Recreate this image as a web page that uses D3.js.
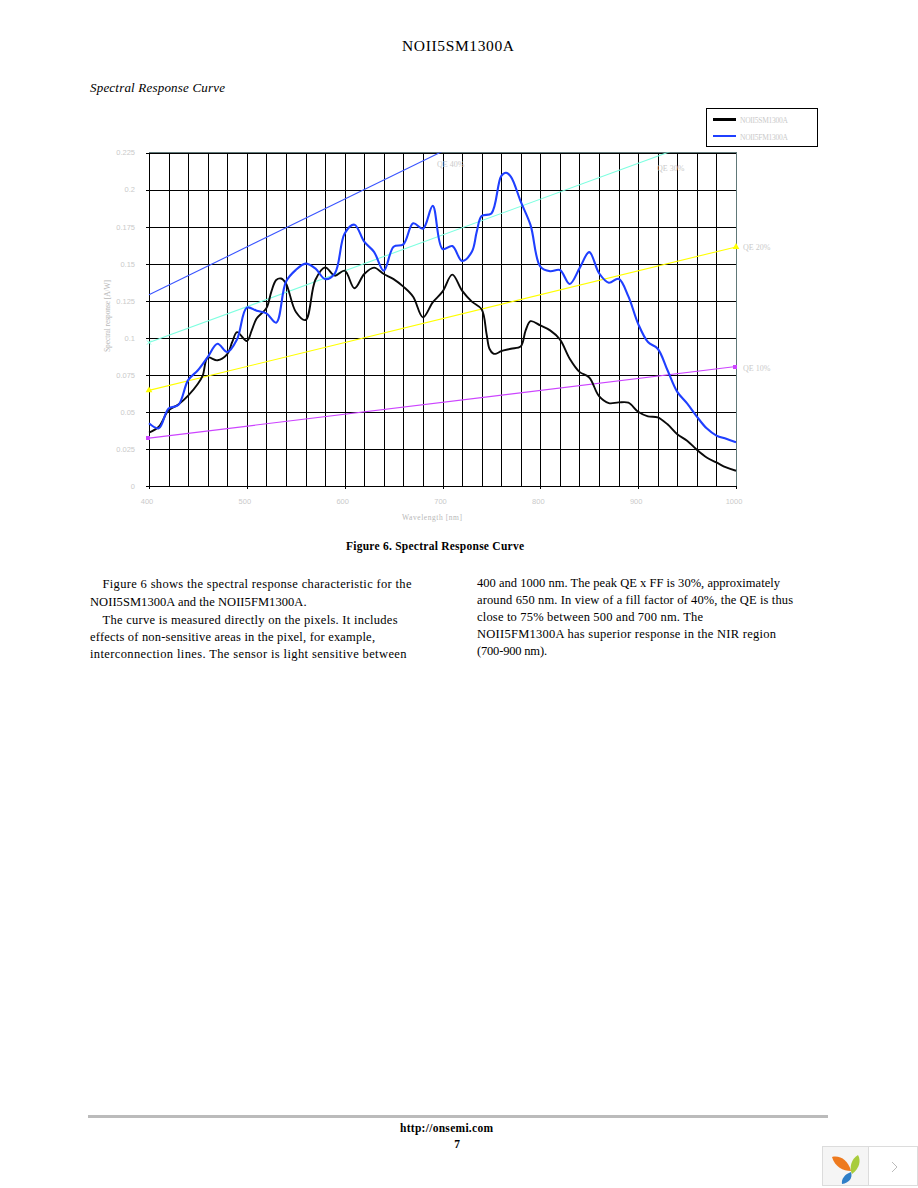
<!DOCTYPE html>
<html lang="en">
<head>
<meta charset="utf-8">
<title>NOII5SM1300A</title>
<script src="https://cdnjs.cloudflare.com/ajax/libs/d3/7.8.5/d3.min.js"></script>
<style>
    html, body { margin: 0; padding: 0; background: #fff; }
    svg { display: block; font-family: "Liberation Serif", serif; }
    .tick-label { fill: #cacaca; font-size: 7.5px; }
</style>
</head>
<body>
<svg id="page" width="918" height="1188"></svg>
<script>
// values
var monoNm = [400,410,420,430,440,450,455,460,470,480,485,490,500,505,510,520,525,530,535,540,550,560,570,580,590,600,610,620,630,640,650,660,670,680,690,700,710,720,730,740,745,748,752,755,760,770,780,785,790,800,810,820,830,840,850,860,870,880,890,900,910,920,930,940,950,960,970,980,990,1000];
var monoAw = [.036,.040,.051,.055,.061,.069,.0747,.0866,.0848,.089,.097,.1038,.0978,.105,.113,.120,.131,.139,.140,.1367,.1176,.112,.139,.1475,.1419,.1453,.1334,.143,.1473,.143,.1396,.1345,.1277,.1138,.1239,.1311,.1426,.1318,.1244,.1192,.1027,.0926,.0893,.0893,.091,.0926,.0942,.105,.1112,.1083,.105,.0989,.0859,.077,.0732,.0606,.0559,.0564,.0562,.0501,.047,.0463,.0416,.0349,.0306,.0244,.0192,.0159,.0125,.0103];
var nirNm = [400,410,420,430,440,450,460,470,480,490,500,510,520,530,540,550,560,570,580,590,600,610,620,630,640,650,660,670,680,690,700,710,720,730,735,740,750,760,765,770,780,790,800,810,820,830,840,850,860,870,880,890,900,910,920,930,940,950,960,970,980,990,1000];
var nirAw = [.0423,.0389,.0523,.0546,.0714,.0781,.087,.096,.0904,.099,.1203,.1183,.1165,.1102,.1378,.1457,.15,.1468,.1396,.1435,.1704,.1763,.1648,.158,.1453,.1614,.163,.1772,.1736,.189,.1599,.1619,.1518,.158,.1715,.1821,.1839,.2091,.2113,.2086,.1918,.176,.148,.1449,.1457,.1363,.1468,.1578,.1436,.1371,.1398,.1279,.1094,.0971,.0926,.0781,.0635,.0557,.0468,.0389,.034,.0318,.0295];
var qeNames = ["QE 40%", "QE 30%", "QE 20%", "QE 10%"];
var qeStart = [.129, .0968, .0645, .0323];
var qeEnd = [.3226, .2419, .1613, .0806];
var qeColors = ["#3a55ff", "#7dffe0", "#ffff00", "#cc44ff"];
var xMajor = [400,500,600,700,800,900,1000];
var yMajor = [0,.025,.05,.075,.1,.125,.15,.175,.2,.225];
var yLabels = ["0","0.025","0.05","0.075","0.1","0.125","0.15","0.175","0.2","0.225"];
var leftLines = ["Figure 6 shows the spectral response characteristic for the", "NOII5SM1300A and the NOII5FM1300A.", "The curve is measured directly on the pixels. It includes", "effects of non-sensitive areas in the pixel, for example,", "interconnection lines. The sensor is light sensitive between"];
var rightLines = ["400 and 1000 nm. The peak QE x FF is 30%, approximately", "around 650 nm. In view of a fill factor of 40%, the QE is thus", "close to 75% between 500 and 700 nm. The", "NOII5FM1300A has superior response in the NIR region", "(700-900 nm)."];

var svg = d3.select("#page");
var x = d3.scaleLinear().domain([400, 1000]).range([149, 736]);
var y = d3.scaleLinear().domain([0, 0.225]).range([486, 152.5]);

function pageText(px, py, str, size, opts) {
    opts = opts || {};
    var t = svg.append("text").attr("x", px).attr("y", py).text(str)
        .attr("font-size", size)
        .attr("font-weight", opts.weight || null)
        .attr("font-style", opts.style || null)
        .attr("text-anchor", opts.anchor || "start")
        .attr("fill", opts.fill || "#000");
    if (opts.width) t.attr("textLength", opts.width).attr("lengthAdjust", "spacing");
    return t;
}

// page furniture
pageText(458, 50.5, "NOII5SM1300A", 15.5, {anchor: "middle", width: 112});
pageText(90, 92, "Spectral Response Curve", 13, {style: "italic", width: 135});

// grid, drawn by the axes
var xGrid = d3.axisBottom(x).tickValues(d3.range(400, 1001, 20)).tickSize(-(486 - 152.5)).tickFormat("");
var gx = svg.append("g").attr("transform", "translate(0,486)").attr("shape-rendering", "crispEdges").call(xGrid);
gx.select(".domain").remove();
gx.selectAll("line").attr("stroke", "#000").attr("stroke-width", 1);
var yGrid = d3.axisLeft(y).tickValues(yMajor).tickSize(-587).tickFormat("");
var gy = svg.append("g").attr("transform", "translate(149,0)").attr("shape-rendering", "crispEdges").call(yGrid);
gy.select(".domain").remove();
gy.selectAll("line").attr("stroke", "#000").attr("stroke-width", 1);

// tick labels
var xAxis = d3.axisBottom(x).tickValues(xMajor).tickSize(3).tickPadding(10).tickFormat(d3.format("d"));
var ax = svg.append("g").attr("transform", "translate(0,486)").attr("shape-rendering", "crispEdges").call(xAxis);
ax.select(".domain").remove();
ax.selectAll("line").attr("stroke", "#000");
ax.selectAll("text").attr("class", "tick-label").attr("font-family", null).attr("font-size", null).attr("dx", -2.5);
var yAxis = d3.axisLeft(y).tickValues(yMajor).tickSize(3).tickPadding(11).tickFormat(function (d, i) { return yLabels[i]; });
var ay = svg.append("g").attr("transform", "translate(149,0)").attr("shape-rendering", "crispEdges").call(yAxis);
ay.select(".domain").remove();
ay.selectAll("line").attr("stroke", "#000");
ay.selectAll("text").attr("class", "tick-label").attr("font-family", null).attr("font-size", null);

// top and right edges of the plot are grey
svg.append("path").attr("fill", "none").attr("stroke", "#607878").attr("stroke-width", 1).attr("shape-rendering", "crispEdges")
    .attr("d", "M" + x(400) + "," + y(0.225) + "H" + x(1000) + "V" + y(0));

// clip for QE lines and curves
svg.append("clipPath").attr("id", "plot").append("rect")
    .attr("x", x(400) - 5).attr("y", y(0.225)).attr("width", x(1000) - x(400) + 10).attr("height", y(0) - y(0.225));

var plot = svg.append("g").attr("clip-path", "url(#plot)");
var qeLine = d3.line().x(function (d) { return x(d[0]); }).y(function (d) { return y(d[1]); });
qeNames.forEach(function (n, i) {
    plot.append("path").attr("fill", "none").attr("stroke", qeColors[i]).attr("stroke-width", 1.1)
        .attr("d", qeLine([[400, qeStart[i]], [1000, qeEnd[i]]]));
});

// QE markers: cross for 30%, triangle for 20%, square for 10%
function marker(nm, val, i) {
    var px = x(nm), py = y(val), c = qeColors[i];
    if (i === 1) {
        plot.append("path").attr("transform", "translate(" + px + "," + py + ")").attr("d", "M-2,-2L2,2M-2,2L2,-2").attr("stroke", c).attr("stroke-width", 1);
    } else if (i === 2) {
        svg.append("path").attr("transform", "translate(" + px + "," + py + ")").attr("d", d3.symbol(d3.symbolTriangle, 20)).attr("fill", c);
    } else if (i === 3) {
        svg.append("path").attr("transform", "translate(" + (px - 1) + "," + py + ")").attr("d", d3.symbol(d3.symbolSquare, 16)).attr("fill", c).attr("shape-rendering", "crispEdges");
    }
}
qeNames.forEach(function (n, i) {
    marker(400, qeStart[i], i);
    marker(1000, qeEnd[i], i);
});

// response curves
var curve = d3.line()
    .x(function (d) { return x(d[0]); })
    .y(function (d) { return y(d[1]); })
    .curve(d3.curveCatmullRom.alpha(0.5));
plot.append("path").attr("fill", "none").attr("stroke", "#0a0a0a").attr("stroke-width", 1.9)
    .attr("d", curve(d3.zip(monoNm, monoAw)));
plot.append("path").attr("fill", "none").attr("stroke", "#1f3fff").attr("stroke-width", 2.1)
    .attr("d", curve(d3.zip(nirNm, nirAw)));

// QE labels
var qeLabelX = [437, 657, 743, 743];
var qeLabelY = [167, 171, 250, 371];
qeNames.forEach(function (n, i) {
    pageText(qeLabelX[i], qeLabelY[i], n, 8, {fill: "#cacaca"});
});

// axis titles
pageText(432, 520, "Wavelength [nm]", 7.5, {anchor: "middle", fill: "#b8b8b8", width: 60});
svg.append("text").attr("transform", "translate(110,316) rotate(-90)").text("Spectral response [A/W]")
    .attr("font-size", 7.5).attr("text-anchor", "middle").attr("fill", "#b8b8b8")
    .attr("textLength", 72).attr("lengthAdjust", "spacing");

// legend
svg.append("rect").attr("x", 706.5).attr("y", 108.5).attr("width", 111).attr("height", 38).attr("fill", "#fff").attr("stroke", "#000");
svg.append("line").attr("x1", 713).attr("x2", 736).attr("y1", 119.5).attr("y2", 119.5).attr("stroke", "#000").attr("stroke-width", 3);
svg.append("line").attr("x1", 713).attr("x2", 736).attr("y1", 136).attr("y2", 136).attr("stroke", "#1f3fff").attr("stroke-width", 2);
pageText(740, 123, "NOII5SM1300A", 7.5, {fill: "#cacaca", width: 48});
pageText(740, 140, "NOII5FM1300A", 7.5, {fill: "#cacaca", width: 48});

// caption and body text
pageText(435, 550, "Figure 6. Spectral Response Curve", 11.5, {anchor: "middle", weight: "bold", width: 178});
var leftX = [102.5, 90, 102.5, 90, 90];
var leftEnd = [411.5, 306.5, 397.5, 375, 406.5];
var leftY = [588, 606, 624, 641, 657.5];
leftLines.forEach(function (t, i) {
    pageText(leftX[i], leftY[i], t, 12.5, {width: leftEnd[i] - leftX[i]});
});
var rightEnd = [780, 793, 703, 776, 547];
var rightY = [587, 604, 621, 638, 655];
rightLines.forEach(function (t, i) {
    pageText(477, rightY[i], t, 12.5, {width: rightEnd[i] - 477});
});

// footer
svg.append("line").attr("x1", 88).attr("x2", 828).attr("y1", 1116.5).attr("y2", 1116.5).attr("stroke", "#bbb").attr("stroke-width", 3);
pageText(446.5, 1132, "http://onsemi.com", 11.5, {anchor: "middle", weight: "bold", width: 93});
pageText(457, 1148, "7", 11.5, {anchor: "middle", weight: "bold"});

// viewer widget bottom right
svg.append("rect").attr("x", 822.5).attr("y", 1146.5).attr("width", 46).attr("height", 39).attr("fill", "#f5f5f5").attr("stroke", "#dcdcdc");
svg.append("rect").attr("x", 868.5).attr("y", 1146.5).attr("width", 49).attr("height", 39).attr("fill", "#fff").attr("stroke", "#dcdcdc");
svg.append("path").attr("d", "M832,1157C840,1155 848,1160 851,1171C843,1171 835,1167 832,1157Z").attr("fill", "#ee7a1e");
svg.append("path").attr("d", "M858,1155C861,1160 860,1168 852,1174C849,1168 851,1159 858,1155Z").attr("fill", "#a8cc3c");
svg.append("path").attr("d", "M851,1172C853,1178 849,1183 842,1184C841,1179 845,1174 851,1172Z").attr("fill", "#2f7fc8");
svg.append("path").attr("d", "M892,1162L897,1167L892,1172").attr("fill", "none").attr("stroke", "#bbb");
</script>
</body>
</html>
